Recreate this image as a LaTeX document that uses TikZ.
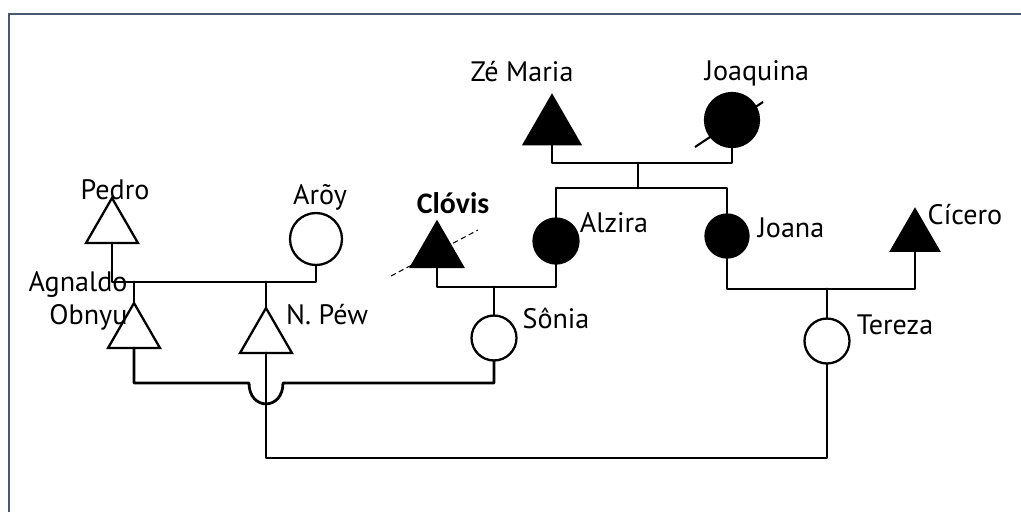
\documentclass[tikz,border=0pt]{standalone}
\usepackage{fontspec}
\setmainfont{PT Sans}
\newfontfamily\clovisfont{Carlito}
\usetikzlibrary{shapes.geometric}
\definecolor{framecol}{RGB}{72,88,112}

\begin{document}
\begin{tikzpicture}[x=0.02cm,y=-0.02cm,
    tri/.style={regular polygon,regular polygon sides=3,draw,line width=1.3pt,
      inner sep=0pt,outer sep=0pt,minimum size=1.2cm},
    fem/.style={circle,draw,line width=1.3pt,inner sep=0pt,outer sep=0pt,minimum size=0.9cm},
    aff/.style={fill=black},
    lbl/.style={font=\fontsize{16}{19}\selectfont,inner sep=0pt},
    link/.style={line width=1.6pt,line cap=round,line join=round}]
  \useasboundingbox (0,0) rectangle (1021,512);
  \draw[framecol,line width=1.4pt] (9,512) -- (9,14) -- (1021,14);

  % people
  \node[tri] (pedro) at (112,228) {};
  \node[fem,minimum size=1.04cm] (aroy) at (316,239) {};
  \node[tri] (agnaldo) at (134,333) {};
  \node[tri] (npew) at (266,338) {};
  \node[tri,aff,minimum size=1.3cm] (zemaria) at (552,128) {};
  \node[fem,aff,minimum size=1.08cm] (joaquina) at (732,120) {};
  \node[tri,aff] (clovis) at (437,252) {};
  \node[fem,aff] (alzira) at (556,241) {};
  \node[fem,aff,minimum size=0.86cm] (joana) at (727,236) {};
  \node[tri,aff,minimum size=1.1cm] (cicero) at (915,237) {};
  \node[fem] (sonia) at (494,338) {};
  \node[fem] (tereza) at (827,341) {};

  % names
  \node[lbl] (lzemaria) at (522,72) {Zé Maria};
  \node[lbl] (ljoaquina) at (757,73) {Joaquina};
  \node[lbl] (lpedro) at (115,190) {Pedro};
  \node[lbl] (laroy) at (320,197) {Arõy};
  \node[font=\clovisfont\bfseries\fontsize{17}{20}\selectfont,inner sep=0pt] (lclovis) at (453,203) {Clóvis};
  \node[lbl] (lalzira) at (614,223) {Alzira};
  \node[lbl] (ljoana) at (791,228) {Joana};
  \node[lbl] (lcicero) at (965,215) {Cícero};
  \node[lbl,align=right] (lagnaldo) at (78,301) {Agnaldo\\Obnyu};
  \node[lbl] (lnpew) at (327,315) {N. Péw};
  \node[lbl] (lsonia) at (556,318) {Sônia};
  \node[lbl] (ltereza) at (895,325) {Tereza};

  % marks
  \draw[line width=1.2pt] (joaquina.center) ++(-37,27) -- ++(68,-45);
  \draw[semithick,densely dashed] (clovis.center) ++(-46,24) -- ++(87,-46);

  % Pedro x Aroy
  \coordinate (pa) at (210,282);
  \draw[link] (pedro.south) |- (pa) -| (aroy.south);
  \draw[link] (agnaldo.north) -- (agnaldo.north |- pa);
  \draw[link] (npew.north) -- (npew.north |- pa);

  % Ze Maria x Joaquina
  \coordinate (zj) at (638,163);
  \coordinate (sib) at (638,188);
  \draw[link] (zemaria.south) |- (zj) -| (joaquina.south);
  \draw[link] (zj) -- (sib);
  \draw[link] (alzira.north) |- (sib) -| (joana.north);

  % Clovis x Alzira
  \coordinate (ca) at (494,287);
  \draw[link] (clovis.south) |- (ca) -| (alzira.south);
  \draw[link] (ca) -- (sonia.north);

  % Joana x Cicero
  \coordinate (jc) at (827,289);
  \draw[link] (joana.south) |- (jc) -| (cicero.south);
  \draw[link] (jc) -- (tereza.north);

  % Agnaldo x Sonia, hop over N. Pew
  \coordinate (hopl) at (249,383);
  \coordinate (hopr) at (283,383);
  \draw[link] (agnaldo.south) |- (hopl) to[out=-90,in=-90,looseness=2.1] (hopr) -| (sonia.south);

  % N. Pew x Tereza
  \coordinate (nt) at (540,458);
  \draw[link] (npew.south) |- (nt) -| (tereza.south);
\end{tikzpicture}
\end{document}
